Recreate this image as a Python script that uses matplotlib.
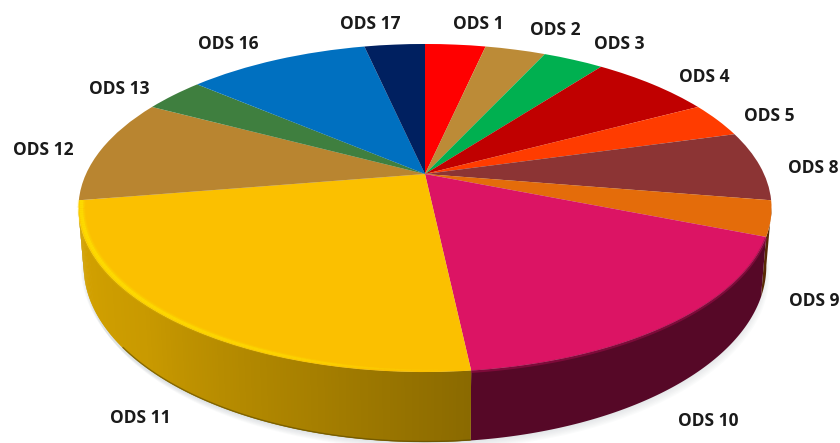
import numpy as np
import matplotlib
matplotlib.use("Agg")
import matplotlib.pyplot as plt
from matplotlib.transforms import Transform

# dados (contagem por ODS)
labels = ["ODS 1", "ODS 2", "ODS 3", "ODS 4", "ODS 5", "ODS 8", "ODS 9",
          "ODS 10", "ODS 11", "ODS 12", "ODS 13", "ODS 16", "ODS 17"]
values = [1, 1, 1, 2, 1, 2, 1, 5, 7, 3, 1, 3, 1]
colors = ["#FF0000", "#BC8B37", "#00B050", "#C00000", "#FF3C00", "#8C3434", "#E46C0A",
          "#DC1464", "#FBC000", "#B98530", "#3F7F3F", "#0070C0", "#002060"]

# posicao dos rotulos em pixels
label_x = [478, 555, 619, 704, 769, 813, 814, 708, 140, 43, 119, 228, 370]
label_y = [24, 30, 44, 77, 116, 168, 301, 421, 418, 150, 89, 44, 24]

# perspectiva do disco
CX, CY = 425, 174
SX = 339
K = 0.2073
A = -120.9
DEPTH = 55.5


def projeta(u, v):
    w = 1 + K * v
    return CX + SX * u / w, (A * v + CY) / w


def fundo(u, v):
    # contorno de baixo: mais estreito e com altura que cresce para a frente
    x, y = projeta(u, v)
    return CX + (x - CX) * 0.985, y + DEPTH / (1 + K * v)


class Perspectiva(Transform):
    input_dims = 2
    output_dims = 2

    def transform_non_affine(self, xy):
        xy = np.asarray(xy, dtype=float)
        x, y = projeta(xy[:, 0], xy[:, 1])
        return np.column_stack([x, y])


def mistura(c1, c2, t):
    a = np.array(matplotlib.colors.to_rgb(c1))
    b = np.array(matplotlib.colors.to_rgb(c2))
    return tuple(a + (b - a) * t)


def ponto(graus):
    r = np.radians(graus)
    return np.cos(r), np.sin(r)


fig = plt.figure(figsize=(8.4, 4.43), dpi=100)
ax = fig.add_axes([0, 0, 1, 1])

wedges, _ = ax.pie(values, colors=colors, startangle=90, counterclock=False,
                   wedgeprops={"linewidth": 0, "antialiased": True})
ax.set_aspect("auto")
ax.set_xlim(0, 840)
ax.set_ylim(443, 0)
ax.axis("off")

persp = Perspectiva() + ax.transData
for w in wedges:
    w.set_transform(persp)
    w.set_zorder(5)

# sombra suave embaixo do disco
sx, sy = fundo(*ponto(np.linspace(0, 360, 361)))
for i in range(8):
    ax.fill(sx + (i - 3.5) * 0.9, sy + i * 1.1, color="#8A9AA0", alpha=0.035, lw=0, zorder=1)

# parede lateral, so a parte voltada para a frente
for w, nome, cor in zip(wedges, labels, colors):
    ang = np.arange(w.theta1, w.theta2, 0.5)
    ang = ang[np.sin(np.radians(ang)) < -K]
    if nome != "ODS 11":
        if len(ang) > 1:
            ang = np.append(ang, min(w.theta2, ang[-1] + 0.5))
            xt, yt = projeta(*ponto(ang))
            xb, yb = fundo(*ponto(ang))
            ax.fill(np.r_[xt, xb[::-1]], np.r_[yt, yb[::-1]],
                    color=mistura("#000000", cor, 0.39), lw=0, zorder=3)
        continue
    # amarelo com degrade, cada faixa passa um pouco por baixo da proxima
    for a0 in ang:
        c = (90 - a0) % 360
        f = np.interp(c, [174, 195, 225, 250, 262], [0.55, 0.66, 0.80, 0.84, 0.80])
        faixa = np.array([a0, min(a0 + 1.0, w.theta2)])
        xt, yt = projeta(*ponto(faixa))
        xb, yb = fundo(*ponto(faixa))
        ax.fill(np.r_[xt, xb[::-1]], np.r_[yt, yb[::-1]],
                color=mistura("#000000", cor, f), lw=0, zorder=3)

# brilho na borda da fatia amarela, um pouco para dentro do contorno
w = wedges[labels.index("ODS 11")]
ang = np.linspace(w.theta1, w.theta2, 120)
for a0, a1 in zip(ang[:-1], ang[1:]):
    c = (90 - (a0 + a1) / 2) % 360
    forca = np.interp(c, [174, 200, 235, 258], [0.0, 0.7, 1.0, 1.0])
    u, v = ponto(np.array([a0, a1]))
    x, y = projeta(u * 0.992, v * 0.992)
    for lw, al in [(6, 0.12), (4.5, 0.25), (2.5, 0.6)]:
        ax.plot(x, y, color="#FFE400", lw=lw * max(forca, 0.3), alpha=al * forca,
                solid_capstyle="butt", zorder=6)

# linha escura no pe da parede amarela
ang = np.linspace(w.theta1, w.theta2, 80)
ang = ang[np.sin(np.radians(ang)) < -0.6]
x, y = fundo(*ponto(ang))
ax.plot(x, y - 0.5, color="#5A4800", lw=1, alpha=0.6, zorder=4)

# transicao borrada na fatia rosa
w = wedges[labels.index("ODS 10")]
ang = np.linspace(w.theta1, w.theta2, 80)
x, y = projeta(*ponto(ang))
ax.plot(x, y + 1, color=mistura("#DC1464", "#55052A", 0.5), lw=2, alpha=0.6,
        solid_capstyle="butt", zorder=6)

for nome, lx, ly in zip(labels, label_x, label_y):
    ax.text(lx, ly, nome, ha="center", va="center", fontsize=12.5, fontweight="bold",
            family="Open Sans", color="#1A1A1A", zorder=10)

fig.savefig("out.png", dpi=100)
